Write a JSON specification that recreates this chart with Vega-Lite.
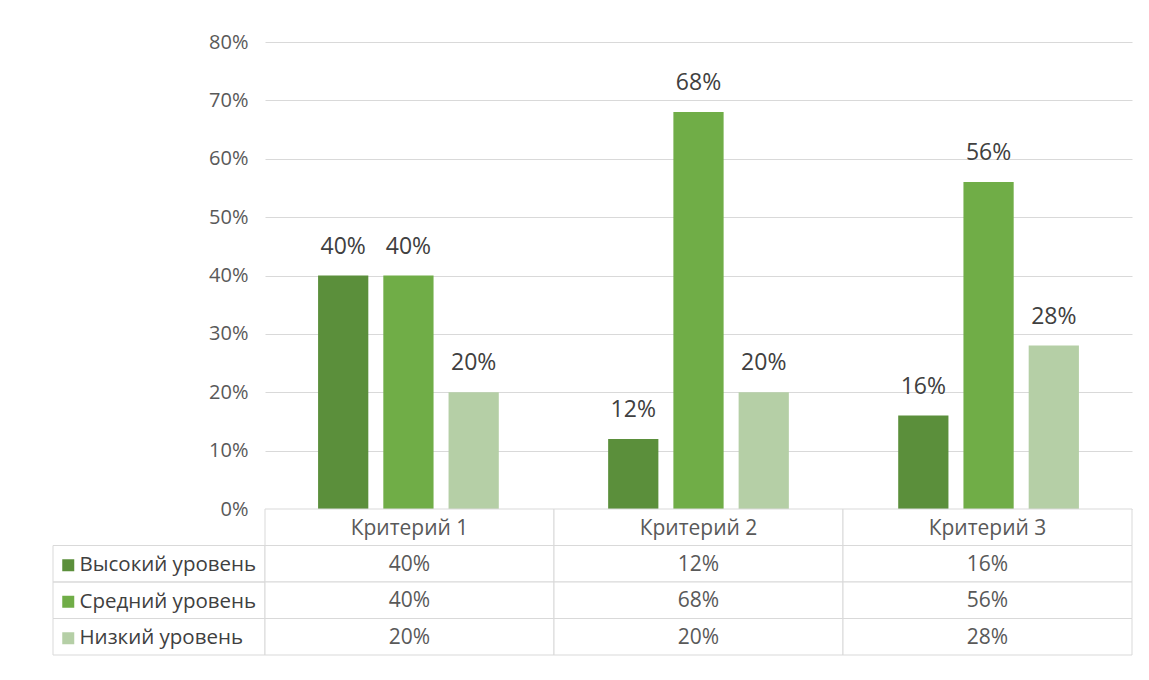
{
  "$schema": "https://vega.github.io/schema/vega-lite/v6.json",
  "background": "white",
  "padding": {"left": 52, "top": 32, "right": 10, "bottom": 10},
  "config": {
    "font": "Open Sans",
    "view": {"stroke": null}
  },
  "datasets": {
    "d": [
      {"criterion": "Критерий 1", "level": "Высокий уровень", "value": 0.40},
      {"criterion": "Критерий 1", "level": "Средний уровень", "value": 0.40},
      {"criterion": "Критерий 1", "level": "Низкий уровень", "value": 0.20},
      {"criterion": "Критерий 2", "level": "Высокий уровень", "value": 0.12},
      {"criterion": "Критерий 2", "level": "Средний уровень", "value": 0.68},
      {"criterion": "Критерий 2", "level": "Низкий уровень", "value": 0.20},
      {"criterion": "Критерий 3", "level": "Высокий уровень", "value": 0.16},
      {"criterion": "Критерий 3", "level": "Средний уровень", "value": 0.56},
      {"criterion": "Критерий 3", "level": "Низкий уровень", "value": 0.28}
    ]
  },
  "data": {"name": "d"},
  "columns": 2,
  "spacing": 0,
  "bounds": "flush",
  "align": "each",
  "resolve": {
    "scale": {"color": "independent", "x": "independent", "y": "independent"},
    "legend": {"color": "independent"}
  },
  "concat": [
    {
      "width": 212,
      "height": 467,
      "data": {"values": []},
      "mark": {"type": "rect"},
      "encoding": {}
    },
    {
      "width": 867,
      "height": 467,
      "encoding": {
        "x": {"field": "criterion", "type": "nominal", "sort": null,
              "scale": {"domain": ["Критерий 1", "Критерий 2", "Критерий 3"], "paddingInner": 0.377, "paddingOuter": 0.183},
              "axis": null},
        "xOffset": {"field": "level", "type": "nominal",
              "scale": {"domain": ["Высокий уровень", "Средний уровень", "Низкий уровень"], "paddingInner": 0.23, "paddingOuter": 0}},
        "y": {"field": "value", "type": "quantitative",
              "scale": {"domain": [0, 0.8], "nice": false},
              "axis": {"format": ".0%", "values": [0, 0.1, 0.2, 0.3, 0.4, 0.5, 0.6, 0.7, 0.8],
                       "grid": true, "gridColor": "#d9d9d9", "gridWidth": 1,
                       "domain": false, "ticks": false, "labelPadding": 17,
                       "labelFontSize": 20, "labelColor": "#595959", "labelFont": "Open Sans", "title": null}}
      },
      "layer": [
        {
          "mark": {"type": "bar"},
          "encoding": {
            "color": {"field": "level", "type": "nominal",
              "scale": {"domain": ["Высокий уровень", "Средний уровень", "Низкий уровень"],
                        "range": ["#5b8f3b", "#70ad47", "#b5cfa6"]},
              "legend": {"orient": "none", "legendX": -207, "legendY": 513, "title": null,
                         "direction": "vertical",
                         "symbolType": "square", "symbolSize": 144, "symbolStrokeWidth": 0,
                         "labelFontSize": 20.5, "labelColor": "#404040", "labelFont": "Open Sans",
                         "labelLimit": 400,
                         "rowPadding": 15.5, "labelOffset": 1, "padding": 0}}
          }
        },
        {
          "mark": {"type": "text", "baseline": "alphabetic", "dy": -22, "fontSize": 23, "color": "#404040"},
          "encoding": {"text": {"field": "value", "type": "quantitative", "format": ".0%"}}
        }
      ]
    },
    {
      "width": 212,
      "height": 146,
      "transform": [{"aggregate": [{"op": "count", "as": "n"}], "groupby": ["level"]}],
      "mark": {"type": "rect", "fillOpacity": 0, "stroke": "#d9d9d9", "strokeWidth": 1},
      "encoding": {
        "y": {"field": "level", "type": "nominal",
              "scale": {"domain": ["Критерий", "Высокий уровень", "Средний уровень", "Низкий уровень"], "paddingInner": 0, "paddingOuter": 0},
              "axis": null}
      }
    },
    {
      "width": 867,
      "height": 146,
      "layer": [
        {
          "transform": [{"aggregate": [{"op": "count", "as": "n"}], "groupby": ["criterion"]}],
          "mark": {"type": "rect", "fill": "white", "stroke": "#d9d9d9", "strokeWidth": 1},
          "encoding": {
            "x": {"field": "criterion", "type": "nominal", "scale": {"domain": ["Критерий 1", "Критерий 2", "Критерий 3"], "paddingInner": 0, "paddingOuter": 0}, "axis": null},
            "y": {"datum": "Критерий", "type": "nominal", "scale": {"domain": ["Критерий", "Высокий уровень", "Средний уровень", "Низкий уровень"], "paddingInner": 0, "paddingOuter": 0}, "axis": null}
          }
        },
        {
          "transform": [{"aggregate": [{"op": "count", "as": "n"}], "groupby": ["criterion"]}],
          "mark": {"type": "text", "fontSize": 21, "color": "#595959", "dy": 2},
          "encoding": {
            "x": {"field": "criterion", "type": "nominal"},
            "y": {"datum": "Критерий", "type": "nominal"},
            "text": {"field": "criterion"}
          }
        },
        {
          "mark": {"type": "rect", "fill": "white", "stroke": "#d9d9d9", "strokeWidth": 1},
          "encoding": {
            "x": {"field": "criterion", "type": "nominal"},
            "y": {"field": "level", "type": "nominal"}
          }
        },
        {
          "mark": {"type": "text", "fontSize": 21, "color": "#595959", "dy": 1},
          "encoding": {
            "x": {"field": "criterion", "type": "nominal"},
            "y": {"field": "level", "type": "nominal"},
            "text": {"field": "value", "type": "quantitative", "format": ".0%"}
          }
        }
      ]
    }
  ]
}
